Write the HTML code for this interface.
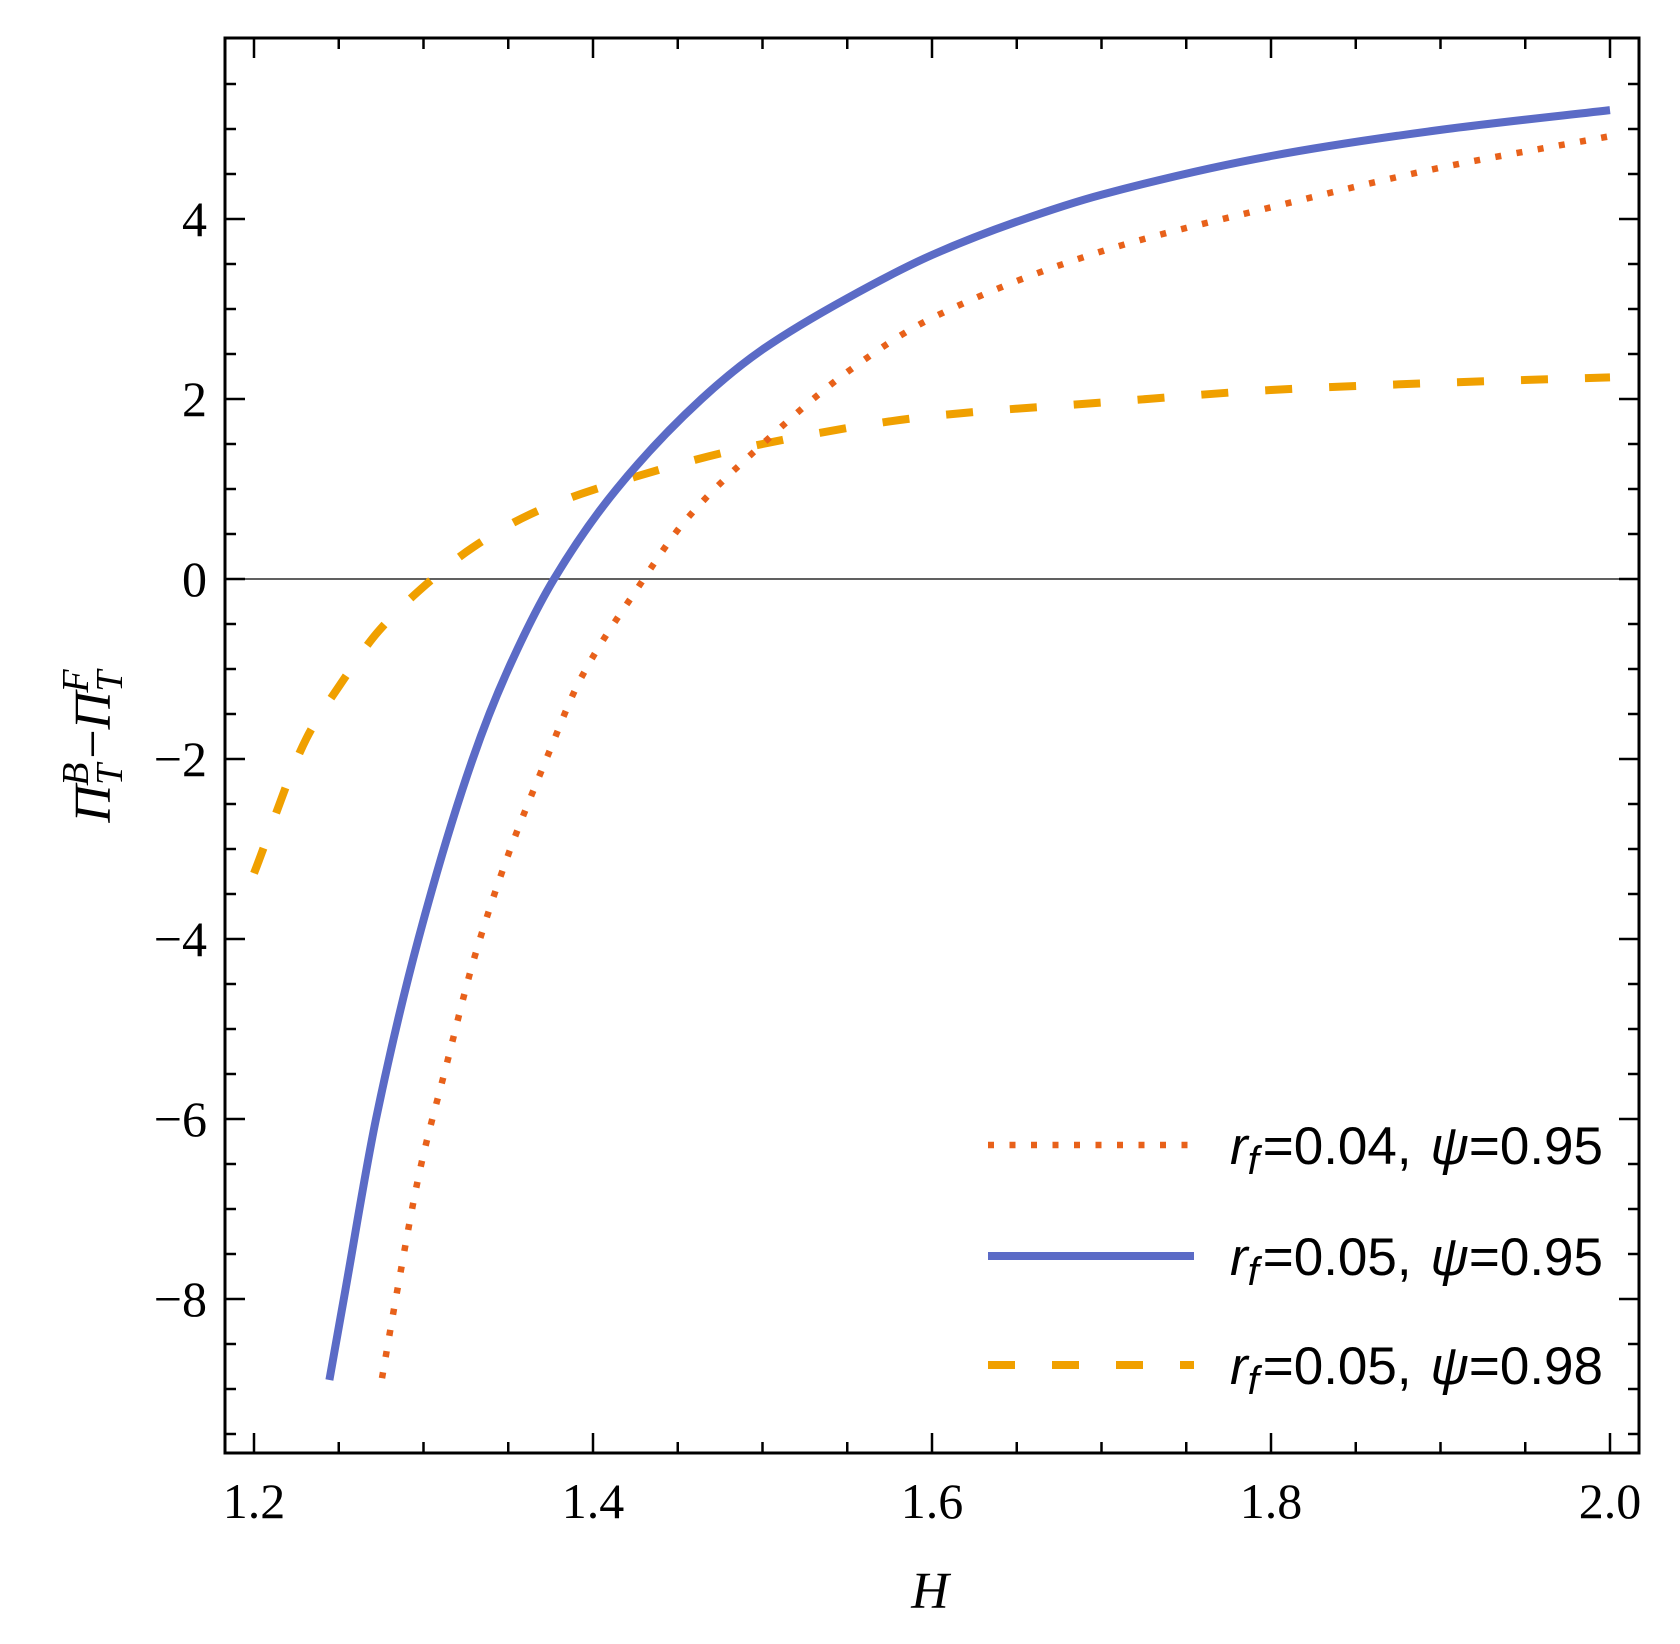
<!DOCTYPE html>
<html><head><meta charset="utf-8"><style>
html,body{margin:0;padding:0;background:#fff;}
svg{display:block;}
</style></head><body>
<svg id="chart" width="1680" height="1644" viewBox="0 0 1680 1644" xmlns="http://www.w3.org/2000/svg">
<g id="plot"></g>
<g id="axes"></g>
<g id="legend"></g>
<text x="930" y="1608" font-family="Liberation Serif, serif" font-style="italic" font-size="52" text-anchor="middle">H</text>
<text transform="translate(110,746) rotate(-90)" font-family="Liberation Serif, serif" font-style="italic" font-size="52" text-anchor="middle">Π<tspan font-size="38" dy="12">T</tspan><tspan font-size="38" dx="-22" dy="-34">B</tspan><tspan dx="4" dy="22" font-style="normal">−</tspan>Π<tspan font-size="38" dy="12">T</tspan><tspan font-size="38" dx="-22" dy="-34">F</tspan></text>
</svg>
<script>
const xTicks=[1.2,1.4,1.6,1.8,2.0];
const xTickLabels=["1.2","1.4","1.6","1.8","2.0"];
const yTicks=[-8,-6,-4,-2,0,2,4];
const yTickLabels=["\u22128","\u22126","\u22124","\u22122","0","2","4"];
const blueH=[1.2445,1.253,1.272,1.297,1.329,1.35,1.377,1.414,1.464,1.5,1.55,1.6,1.65,1.7,1.8,1.9,2.0];
const blueV=[-8.9,-8,-6,-4,-2,-1.0,0,1,2,2.55,3.12,3.6,3.97,4.27,4.7,4.99,5.21];
const redH=[1.2755,1.2842,1.298,1.3137,1.3295,1.3491,1.3727,1.3924,1.426,1.455,1.5,1.55,1.6,1.7,1.8,1.9,2.0];
const redV=[-8.88,-7.94,-6.56,-5.39,-4.24,-3.11,-1.99,-1.12,-0.11,0.66,1.5,2.3,2.9,3.64,4.13,4.57,4.92];
const orH=[1.2,1.231,1.251,1.273,1.301,1.329,1.363,1.4,1.5,1.6,1.7,1.8,1.9,2.0];
const orV=[-3.27,-1.77,-1.17,-0.59,-0.07,0.35,0.72,0.99,1.5,1.81,1.96,2.1,2.18,2.24];
const legendLabels=[["0.04","0.95"],["0.05","0.95"],["0.05","0.98"]];

const L=225,R=1639,T=38,B=1453;
const sx=h=>254+(h-1.2)*1695;
const sy=v=>579-v*90;
const NS="http://www.w3.org/2000/svg";
function mk(tag,attrs,parent){const e=document.createElementNS(NS,tag);for(const k in attrs)e.setAttribute(k,attrs[k]);parent.appendChild(e);return e;}
const plot=document.getElementById('plot'),axes=document.getElementById('axes'),leg=document.getElementById('legend');

let zl=mk('line',{x1:L,x2:R,y1:sy(0),y2:sy(0),stroke:'#000','stroke-width':1.3},plot);



function monoPath(X,Y){
  const n=X.length,d=[],m=new Array(n);
  for(let i=0;i<n-1;i++)d.push((Y[i+1]-Y[i])/(X[i+1]-X[i]));
  m[0]=d[0];m[n-1]=d[n-2];
  for(let i=1;i<n-1;i++){m[i]=(d[i-1]*d[i]<=0)?0:2/(1/d[i-1]+1/d[i]);}
  let s='M'+X[0].toFixed(1)+' '+Y[0].toFixed(1);
  for(let i=0;i<n-1;i++){const h=X[i+1]-X[i];
    s+=' C'+(X[i]+h/3).toFixed(1)+' '+(Y[i]+m[i]*h/3).toFixed(1)+' '+(X[i+1]-h/3).toFixed(1)+' '+(Y[i+1]-m[i+1]*h/3).toFixed(1)+' '+X[i+1].toFixed(1)+' '+Y[i+1].toFixed(1);}
  return s;
}
function series(H,V,style,name){
  const d=monoPath(H.map(sx),V.map(sy));
  const p=mk('path',Object.assign({d:d,fill:'none'},style),plot);
  
  
}
const sRed={stroke:'#e8611a','stroke-width':6.5,'stroke-dasharray':'6 15.5'};
const sBlue={stroke:'#5b6bc6','stroke-width':8,'stroke-linejoin':'round'};
const sOr={stroke:'#f0a000','stroke-width':8,'stroke-dasharray':'27 37'};
series(orH,orV,sOr,'series-rf005-psi098');
series(redH,redV,sRed,'series-rf004-psi095');
series(blueH,blueV,sBlue,'series-rf005-psi095');

let fr=mk('rect',{x:L,y:T,width:R-L,height:B-T,fill:'none',stroke:'#000','stroke-width':3},axes);


for(let k=0;k<=16;k++){
  const h=1.2+k*0.05;const x=sx(h);const major=k%4==0;const len=major?20:11;
  mk('line',{x1:x,x2:x,y1:B,y2:B-len,stroke:'#000','stroke-width':2.5},axes);
  mk('line',{x1:x,x2:x,y1:T,y2:T+len,stroke:'#000','stroke-width':2.5},axes);
}
xTicks.forEach((h,i)=>{
  const t=mk('text',{x:sx(h),y:1518,'font-family':'Liberation Serif, serif','font-size':50,'text-anchor':'middle'},axes);
  t.textContent=xTickLabels[i];
  
  
});
for(let k=-19;k<=11;k++){
  const v=k*0.5;const y=sy(v);if(y>B||y<T)continue;const major=k%4==0;const len=major?20:11;
  mk('line',{x1:L,x2:L+len,y1:y,y2:y,stroke:'#000','stroke-width':2.5},axes);
  mk('line',{x1:R,x2:R-len,y1:y,y2:y,stroke:'#000','stroke-width':2.5},axes);
}
yTicks.forEach((v,i)=>{
  const t=mk('text',{x:207,y:sy(v)+17,'font-family':'Liberation Serif, serif','font-size':50,'text-anchor':'end'},axes);
  t.textContent=yTickLabels[i];
  
  
});
const styles=[sRed,sBlue,sOr];
const rowY=[1145,1256,1365];
legendLabels.forEach((lab,i)=>{
  const g=mk('g',{},leg);
  
  
  mk('line',Object.assign({x1:988,x2:1194,y1:rowY[i],y2:rowY[i]},styles[i]),g);
  const t=mk('text',{x:1230,y:rowY[i]+19,'font-family':'Liberation Sans, sans-serif','font-size':53},g);
  t.innerHTML='<tspan font-style="italic">r</tspan><tspan font-style="italic" font-size="40" dy="10">f</tspan><tspan dy="-10" dx="4">='+lab[0]+', </tspan><tspan font-style="italic" dx="4">ψ</tspan>='+lab[1];
});
</script>
</body></html>
